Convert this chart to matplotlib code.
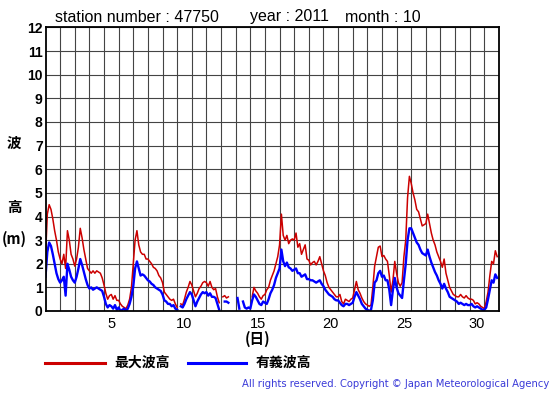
import numpy as np
import matplotlib
matplotlib.use('Agg')
import matplotlib.pyplot as plt
from matplotlib.lines import Line2D

nan = np.nan
W, H = 555, 395

# 3-hourly readings (00,03,...,21h), one row per day, Oct 2011, station 47750
max_wave = [  # 最大波高 (m)
    2.3, 4.1, 4.5, 4.3, 3.9, 3.4, 3.0, 2.5,      # 1
    2.2, 2.0, 2.4, 1.8, 3.4, 3.0, 2.4, 2.2,      # 2
    1.9, 2.2, 2.7, 3.5, 3.1, 2.6, 2.2, 1.8,      # 3
    1.7, 1.6, 1.7, 1.6, 1.7, 1.65, 1.6, 1.4,     # 4
    1.1, 0.75, 0.5, 0.65, 0.7, 0.5, 0.65, 0.45,  # 5
    0.45, 0.3, 0.2, 0.15, 0.1, 0.25, 0.5, 1.0,   # 6
    2.0, 3.0, 3.4, 2.8, 2.5, 2.4, 2.4, 2.2,      # 7
    2.2, 2.1, 2.0, 1.85, 1.8, 1.7, 1.5, 1.4,     # 8
    1.2, 0.8, 0.7, 0.6, 0.5, 0.45, 0.5, 0.3,     # 9
    0.15, nan, 0.3, 0.25, 0.5, 0.8, 1.0, 1.25,   # 10
    1.1, 0.85, 0.6, 0.75, 0.95, 1.05, 1.2, 1.25, # 11
    1.2, 1.05, 1.25, 1.0, 0.9, 0.95, 0.6, 0.35,  # 12
    nan, 0.6, 0.65, 0.55, 0.6, nan, nan, nan,    # 13
    nan, nan, nan, nan, nan, nan, nan, nan,      # 14
    nan, 0.6, 1.0, 0.85, 0.75, 0.6, 0.5, 0.65,   # 15
    0.7, 0.9, 1.0, 1.3, 1.5, 1.7, 2.0, 2.3,      # 16
    2.8, 4.1, 3.2, 3.0, 3.2, 2.85, 3.0, 3.05,    # 17
    3.0, 3.3, 2.7, 2.85, 2.4, 2.6, 2.8, 2.2,     # 18
    2.15, 1.95, 2.05, 2.1, 1.95, 2.1, 2.3, 2.0,  # 19
    1.7, 1.5, 1.2, 1.0, 0.9, 0.8, 0.7, 0.6,      # 20
    0.6, 0.7, 0.4, 0.3, 0.5, 0.45, 0.4, 0.5,     # 21
    0.55, 0.9, 1.25, 0.9, 0.75, 0.55, 0.4, 0.3,  # 22
    0.25, 0.2, 0.25, 1.0, 1.9, 2.3, 2.7, 2.75,   # 23
    2.3, 2.35, 2.2, 2.1, 1.5, 0.8, 1.3, 2.1,     # 24
    1.6, 1.2, 1.05, 1.2, 2.3, 3.0, 4.8, 5.7,     # 25
    5.4, 5.0, 4.7, 4.3, 4.2, 3.9, 3.6, 3.65,     # 26
    3.7, 4.1, 3.7, 3.3, 3.0, 2.8, 2.5, 2.3,      # 27
    2.1, 1.85, 2.2, 1.6, 1.3, 1.0, 0.85, 0.7,    # 28
    0.65, 0.6, 0.6, 0.7, 0.6, 0.55, 0.65, 0.55,  # 29
    0.5, 0.5, 0.45, 0.3, 0.35, 0.3, 0.2, 0.15,   # 30
    0.1, 0.4, 0.8, 1.5, 2.1, 2.0, 2.55, 2.3,     # 31
]
sig_wave = [  # 有義波高 (m)
    1.45, 2.5, 2.9, 2.75, 2.4, 2.0, 1.6, 1.35,
    1.2, 1.3, 1.45, 0.65, 2.0, 1.75, 1.45, 1.3,
    1.2, 1.45, 1.8, 2.2, 1.95, 1.65, 1.35, 1.1,
    0.95, 1.0, 0.9, 0.95, 1.0, 0.95, 0.9, 0.85,
    0.6, 0.3, 0.15, 0.25, 0.2, 0.1, 0.25, 0.05,
    0.15, 0.0, 0.05, 0.1, 0.0, 0.1, 0.3, 0.6,
    1.05, 1.8, 2.1, 1.8, 1.5, 1.55, 1.5, 1.4,
    1.3, 1.25, 1.15, 1.1, 1.0, 0.95, 0.9, 0.85,
    0.7, 0.45, 0.4, 0.3, 0.3, 0.2, 0.25, 0.1,
    0.05, nan, 0.2, 0.15, 0.3, 0.5, 0.65, 0.8,
    0.7, 0.45, 0.2, 0.4, 0.55, 0.7, 0.8, 0.75,
    0.8, 0.65, 0.75, 0.6, 0.6, 0.55, 0.3, 0.05,
    nan, nan, 0.4, 0.4, 0.35, nan, nan, nan,
    nan, 0.55, 0.1, nan, 0.4, 0.15, 0.1, 0.15,
    0.1, 0.45, 0.7, 0.6, 0.45, 0.3, 0.25, 0.4,
    0.35, 0.3, 0.5, 0.75, 0.9, 1.1, 1.4, 1.6,
    1.8, 2.6, 2.1, 1.9, 2.05, 1.85, 1.8, 1.7,
    1.75, 1.8, 1.6, 1.6, 1.45, 1.5, 1.55, 1.35,
    1.35, 1.3, 1.3, 1.25, 1.2, 1.25, 1.3, 1.15,
    1.05, 0.9, 0.8, 0.7, 0.65, 0.6, 0.5, 0.45,
    0.45, 0.35, 0.25, 0.2, 0.3, 0.3, 0.25, 0.3,
    0.35, 0.6, 0.8, 0.65, 0.5, 0.3, 0.2, 0.1,
    0.05, 0.0, 0.05, 0.45, 1.2, 1.3, 1.6, 1.7,
    1.45, 1.5, 1.3, 1.3, 0.9, 0.25, 0.9, 1.4,
    1.0, 0.75, 0.65, 0.55, 1.3, 2.0, 3.0, 3.5,
    3.5, 3.3, 3.1, 2.9, 2.8, 2.6, 2.45, 2.4,
    2.35, 2.6, 2.3, 2.05, 1.85, 1.65, 1.5, 1.3,
    1.15, 0.95, 1.15, 0.95, 0.8, 0.6, 0.55, 0.5,
    0.45, 0.4, 0.3, 0.35, 0.3, 0.25, 0.3, 0.25,
    0.25, 0.3, 0.2, 0.15, 0.2, 0.15, 0.1, 0.05,
    0.05, 0.15, 0.5, 0.9, 1.3, 1.2, 1.55, 1.4,
]
hours = np.arange(0, 31 * 24, 3)
day_labels = [5, 10, 15, 20, 25, 30]

cjk = ['Noto Sans CJK JP', 'DejaVu Sans']
sans = ['Liberation Sans', 'DejaVu Sans']

fig = plt.figure(figsize=(W / 100, H / 100), dpi=100)
ax = fig.add_axes([45.5 / W, 1 - 311 / H, (499 - 45.5) / W, (311 - 27.5) / H])

t = hours / 24.0
ax.plot(t, max_wave, color='#cc0000', lw=1.1)
ax.plot(t, sig_wave, color='#0000ff', lw=1.7)

ax.set_xlim(0, 31)
ax.set_ylim(0, 12)
ax.set_xticks(np.arange(1, 31), minor=True)
ax.set_xticks([d - 0.5 for d in day_labels])
ax.set_xticklabels([str(d) for d in day_labels], family=sans, fontsize=10.5)
ax.set_yticks(np.arange(0, 13))
ax.set_yticklabels([str(v) for v in range(13)], family=sans, fontsize=10, fontweight='bold')
ax.tick_params(which='both', length=0)
ax.tick_params(axis='x', pad=4)
ax.tick_params(axis='y', pad=2)
ax.grid(which='minor', axis='x', color='#444444', lw=0.8)
ax.grid(which='major', axis='y', color='#444444', lw=0.8)
for s in ax.spines.values():
    s.set_linewidth(1.3)
    s.set_zorder(5)

def px(x, y):
    return x / W, 1 - y / H

# header
fig.text(*px(55, 17), 'station number : 47750', family=sans, fontsize=11.5, va='center')
fig.text(*px(250, 17), 'year : 2011', family=sans, fontsize=11.5, va='center')
fig.text(*px(345, 17), 'month : 10', family=sans, fontsize=11.5, va='center')

# y label
fig.text(*px(14, 143), '波', family=cjk, fontsize=10.5, fontweight='bold', ha='center', va='center')
fig.text(*px(14, 207), '高', family=cjk, fontsize=10.5, fontweight='bold', ha='center', va='center')
fig.text(*px(14, 239), '(m)', family=cjk, fontsize=10.5, fontweight='bold', ha='center', va='center')

# x label
fig.text(*px(258, 339), '(日)', family=cjk, fontsize=10.5, fontweight='bold', ha='center', va='center')

# legend
fig.add_artist(Line2D([45 / W, 105 / W], [1 - 363 / H] * 2, color='#cc0000', lw=2.2))
fig.text(*px(114, 363), '最大波高', family=cjk, fontsize=10, fontweight='bold', va='center')
fig.add_artist(Line2D([188 / W, 246 / W], [1 - 363 / H] * 2, color='#0000ff', lw=2.2))
fig.text(*px(256, 363), '有義波高', family=cjk, fontsize=10, fontweight='bold', va='center')

fig.text(*px(549, 384), 'All rights reserved. Copyright \u00a9 Japan Meteorological Agency',
         family=['DejaVu Sans'], fontsize=7.2, color='#3a3ad8', ha='right', va='center')

fig.savefig('out.png', dpi=100)
